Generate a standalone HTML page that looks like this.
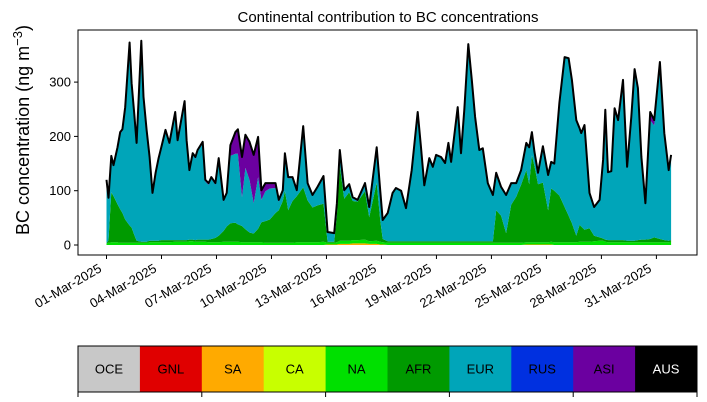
<!DOCTYPE html>
<html><head><meta charset="utf-8"><style>
body{margin:0;background:#fff;width:707px;height:402px;overflow:hidden;font-family:"Liberation Sans","DejaVu Sans",sans-serif}
svg{display:block}
</style></head><body>
<svg id="chart" width="707" height="402" xmlns="http://www.w3.org/2000/svg"></svg>
<script>
// ---- data ----
const timeDays=[0,0.11,0.26,0.38,0.60,0.75,0.87,1.02,1.26,1.37,1.51,1.64,1.90,2.02,2.19,2.35,2.51,2.68,2.84,2.99,3.22,3.43,3.75,3.88,4.26,4.37,4.52,4.70,4.85,4.97,5.25,5.39,5.57,5.72,5.94,6.12,6.39,6.56,6.76,7.03,7.17,7.39,7.58,7.80,8.03,8.27,8.45,8.67,8.91,9.22,9.40,9.62,9.73,9.91,10.15,10.38,10.73,10.97,11.24,11.51,11.84,12.06,12.42,12.57,12.73,12.97,13.24,13.43,13.70,14.10,14.33,14.74,14.93,15.07,15.34,15.61,15.79,16.07,16.34,16.65,16.98,17.16,17.34,17.61,17.80,17.98,18.25,18.47,18.65,18.80,19.16,19.34,19.52,19.74,19.93,20.11,20.34,20.53,20.80,21.08,21.26,21.53,21.80,22.08,22.35,22.62,22.90,23.06,23.21,23.35,23.54,23.81,24.09,24.26,24.43,24.71,24.99,25.21,25.39,25.63,25.81,25.90,26.08,26.35,26.60,26.90,27.09,27.21,27.36,27.54,27.72,27.91,28.18,28.40,28.63,28.81,28.99,29.18,29.40,29.66,29.88,30.19,30.43,30.67,30.80];
const totalBC=[120,87,164,147,180,208,213,254,373,298,243,188,376,273,212,162,96,133,160,180,212,188,245,193,265,193,138,169,162,175,190,120,114,125,114,160,83,96,184,208,213,162,203,190,166,199,101,114,114,114,83,101,169,125,125,101,219,114,92,107,127,24,22,77,175,101,112,88,83,114,70,180,101,46,59,96,105,100,68,138,245,180,110,160,144,166,162,151,188,153,254,169,249,370,304,236,175,178,114,92,133,107,92,114,114,138,188,180,208,171,133,182,129,153,150,262,346,344,304,230,215,206,221,96,70,83,157,249,134,136,252,230,304,144,236,324,289,162,77,245,230,337,206,138,166];
const afrBC=[0,5,92,85,70,62,55,43,32,28,15,4,2,2,2,3,3,3,3,4,4,4,3,3,3,3,3,3,3,4,4,4,5,6,8,12,20,28,34,35,32,30,24,18,16,25,37,40,43,55,60,77,96,60,77,85,101,77,64,68,70,2,2,50,138,77,89,72,71,89,44,107,40,6,3,3,3,3,3,3,3,3,3,3,3,3,3,3,3,3,3,3,3,3,3,3,3,3,3,3,60,50,18,70,85,107,133,107,160,140,107,110,59,98,95,86,65,49,35,12,31,28,22,25,10,6,4,4,4,4,4,4,4,3,3,3,4,5,5,6,9,6,4,3,3];
const asiBC=[2,2,3,3,3,3,3,3,3,3,3,3,3,3,3,3,3,3,3,3,3,3,3,3,3,3,3,3,3,3,3,3,3,3,3,3,3,3,20,40,45,74,61,70,89,74,18,15,10,9,3,2,2,2,2,2,2,2,2,2,2,1,1,1,2,2,2,2,2,2,2,2,2,1,1,1,1,1,1,1,1,1,1,1,1,1,1,1,1,1,1,1,1,1,1,1,1,1,1,1,1,1,1,1,1,1,1,1,1,1,1,1,1,1,1,1,1,1,1,1,1,1,1,1,1,1,1,1,1,1,1,1,1,1,1,1,1,1,1,15,10,2,1,1,1];
const naBC=[3,4,5,5,5,4,4,4,4,4,4,4,4,4,4,5,5,5,5,5,5,5,6,6,6,6,7,7,6,6,6,6,5,5,5,5,6,6,6,6,6,5,5,5,5,5,5,4,4,4,4,4,4,4,4,5,5,5,5,5,6,3,3,4,6,6,6,6,6,7,5,6,5,4,4,4,4,4,4,4,4,4,4,4,4,4,4,4,4,4,4,4,4,4,4,4,4,4,4,4,4,4,4,4,4,4,4,4,4,4,4,4,4,5,5,5,5,5,5,5,6,6,6,6,7,8,8,6,5,5,5,5,5,5,5,5,5,5,5,5,5,5,5,5,6];
const saBC=[0,0,0,0,0,0,0,0,0,0,0,0,0,0,0,0,0,0,0,0,0,0,0,0,0,0,0,0,0,0,0,0,0,0,0,0,0,0,0,0,0,0,0,0,0,0,0,0,0,0,0,0,0,0,0,0,0,0,0,0,0,1,1,1,2,2,2,3,3,3,2,2,1,1,0,0,0,0,0,0,0,0,0,0,0,0,0,0,0,0,0,0,0,0,0,0,0,0,0,0,0,0,0,0,0,0,1,1,1,1,1,1,1,1,0,0,0,0,0,0,0,0,0,0,0,0,0,0,0,0,0,0,0,0,0,0,0,0,0,0,0,0,0,0,0];
const yTicks=[0,100,200,300];
const xTickDays=[0,3,6,9,12,15,18,21,24,27,30];
const xTickLabels=["01-Mar-2025","04-Mar-2025","07-Mar-2025","10-Mar-2025","13-Mar-2025","16-Mar-2025","19-Mar-2025","22-Mar-2025","25-Mar-2025","28-Mar-2025","31-Mar-2025"];
const regions=["OCE","GNL","SA","CA","NA","AFR","EUR","RUS","ASI","AUS"];
const regionColors=["#c8c8c8","#e00000","#ffaa00","#c8ff00","#00e000","#009a00","#00a5b9","#0030e0","#6b00a0","#000000"];

// ---- drawing ----
const NS="http://www.w3.org/2000/svg";
const svg=document.getElementById('chart');
const P={l:78,r:697,t:30,b:255};
const xs=t=>106.5+18.33*t;
const ys=v=>245-0.543*v;
function mk(tag,attrs,parent){const e=document.createElementNS(NS,tag);for(const k in attrs)e.setAttribute(k,attrs[k]);(parent||svg).appendChild(e);return e;}

const n=timeDays.length;
const eurBC=totalBC.map((v,i)=>Math.max(0,v-saBC[i]-naBC[i]-afrBC[i]-asiBC[i]));
const layers=[["SA",saBC,"#ffaa00"],["NA",naBC,"#00e000"],["AFR",afrBC,"#009a00"],["EUR",eurBC,"#00a5b9"],["ASI",asiBC,"#6b00a0"]];
let base=new Array(n).fill(0);
const areaG=mk('g',{});


layers.forEach(([name,vals,col])=>{
  const top=base.map((b,i)=>b+vals[i]);
  let d='';
  for(let i=0;i<n;i++)d+=(i?'L':'M')+xs(timeDays[i]).toFixed(1)+','+ys(top[i]).toFixed(1);
  for(let i=n-1;i>=0;i--)d+='L'+xs(timeDays[i]).toFixed(1)+','+ys(base[i]).toFixed(1);
  const p=mk('path',{d:d+'Z',fill:col,stroke:'none'},areaG);
  
  
  base=top;
});
let ld='';
for(let i=0;i<n;i++)ld+=(i?'L':'M')+xs(timeDays[i]).toFixed(1)+','+ys(base[i]).toFixed(1);
const tl=mk('path',{d:ld,fill:'none',stroke:'#000','stroke-width':2,'stroke-linejoin':'round'});



const frame=mk('rect',{x:P.l,y:P.t,width:P.r-P.l,height:P.b-P.t,fill:'none',stroke:'#000','stroke-width':1});



yTicks.forEach(v=>{
  mk('line',{x1:P.l-4,x2:P.l,y1:ys(v),y2:ys(v),stroke:'#000'});
  const t=mk('text',{x:P.l-7,y:ys(v)+4.5,'text-anchor':'end','font-size':13});
  t.textContent=v;
  
  
});
xTickDays.forEach((d,i)=>{
  const x=xs(d);
  mk('line',{x1:x,x2:x,y1:P.b,y2:P.b+4,stroke:'#000'});
  const ax=x-4, ay=P.b+16;
  const t=mk('text',{x:ax,y:ay,'text-anchor':'end','font-size':13,transform:`rotate(-30 ${ax} ${ay})`});
  t.textContent=xTickLabels[i];
  
  
});
const title=mk('text',{x:388,y:22,'text-anchor':'middle','font-size':15});
title.textContent='Continental contribution to BC concentrations';


const yl=mk('text',{x:0,y:0,'text-anchor':'middle','font-size':18,transform:'translate(29,130) rotate(-90)'});
yl.innerHTML='BC concentration (ng m<tspan dy="-7" font-size="13">−3</tspan><tspan dy="7">)</tspan>';



// colorbar legend
const cb=mk('g',{});


const cw=(697-78)/regions.length;
regions.forEach((r,i)=>{
  const rc=mk('rect',{x:78+i*cw,y:346,width:cw+0.5,height:46,fill:regionColors[i]},cb);
  
  
  const t=mk('text',{x:78+i*cw+cw/2,y:373.5,'text-anchor':'middle','font-size':13,fill:r==='AUS'?'#fff':'#000'},cb);
  t.textContent=r;
  
  
});
mk('rect',{x:78,y:346,width:619,height:46,fill:'none',stroke:'#000'},cb);
for(let k=0;k<=5;k++){const x=78+k*2*cw;mk('line',{x1:x,x2:x,y1:392,y2:397,stroke:'#000'},cb);}
</script>
</body></html>
